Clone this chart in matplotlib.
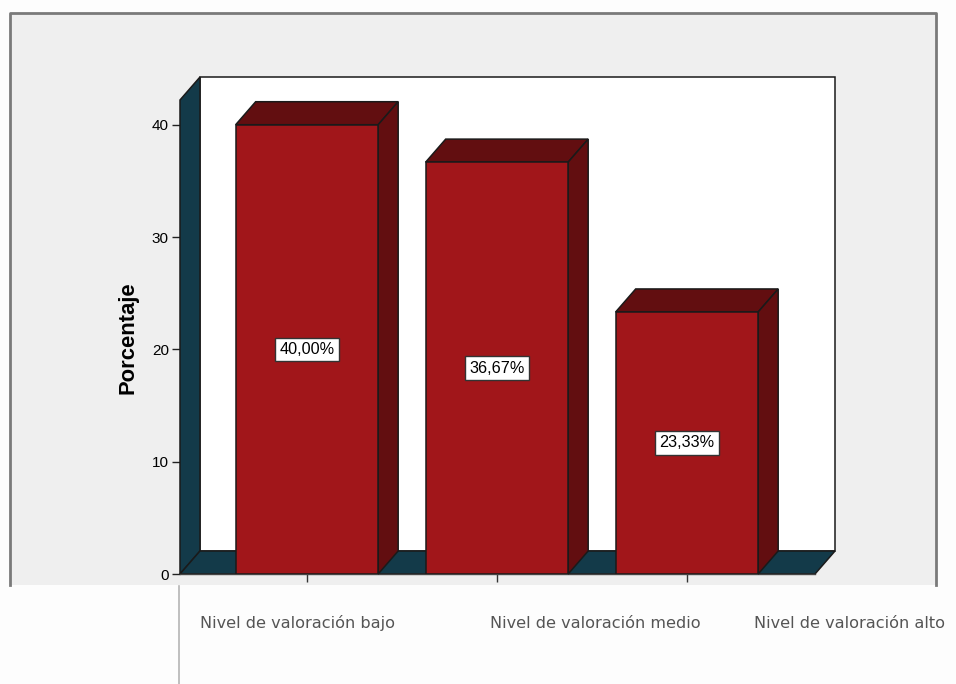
import matplotlib
matplotlib.use('Agg')
import matplotlib.pyplot as plt
from matplotlib.patches import Polygon, Rectangle
from matplotlib.lines import Line2D

# Datos del grafico
categorias = ['Nivel de valoración bajo', 'Nivel de valoración medio', 'Nivel de valoración alto']
porcentajes = [40.00, 36.67, 23.33]
ticks_y = [0, 10, 20, 30, 40]

# Colores estilo SPSS
rojo = '#a1161a'
rojo_osc = '#620e10'
azul_osc = '#133a49'
borde = '#1a1a1a'

W, H = 956, 684
def fx(px):
    return px / W
def fy(py):
    return 1 - py / H

plt.rcParams['font.family'] = ['Liberation Sans', 'DejaVu Sans']

fig = plt.figure(figsize=(W / 100, H / 100), dpi=100)
fig.patch.set_facecolor('#fdfdfd')

# Marco gris de fondo
fig.add_artist(Rectangle((fx(10), fy(585)), fx(936) - fx(10), fy(13) - fy(585),
                         transform=fig.transFigure, facecolor='#efefef', edgecolor='none', zorder=0))
fig.add_artist(Line2D([fx(10), fx(10), fx(936), fx(936)], [fy(585), fy(13), fy(13), fy(585)],
                      color='#7a7a7a', lw=2, zorder=1))
fig.add_artist(Line2D([fx(179), fx(179)], [fy(586), 0], color='#b4b4b4', lw=1.2, zorder=1))

# Ejes (plano frontal)
ax = fig.add_axes([fx(180), fy(574), fx(815) - fx(180), fy(100) - fy(574)])
ax.set_facecolor('none')
ax.set_xlim(-0.668, 2.674)
ax.set_ylim(0, 42.2)
x0, x1 = ax.get_xlim()
y0, y1 = ax.get_ylim()

# profundidad 3D en unidades de datos (20 px a la derecha, 23 px arriba)
inv = ax.transData.inverted()
o = inv.transform(ax.transData.transform((0, 0)))
p = inv.transform(ax.transData.transform((0, 0)) + [20, 23])
dx, dy = p[0] - o[0], p[1] - o[1]

def poli(pts, color, z):
    ax.add_patch(Polygon(pts, closed=True, facecolor=color, edgecolor=borde, lw=1.1,
                         zorder=z, clip_on=False, joinstyle='miter'))

# pared trasera, pared izquierda y suelo
poli([(x0 + dx, y0 + dy), (x1 + dx, y0 + dy), (x1 + dx, y1 + dy), (x0 + dx, y1 + dy)], 'white', 1)
poli([(x0, y0), (x0, y1), (x0 + dx, y1 + dy), (x0 + dx, y0 + dy)], azul_osc, 2)
poli([(x0, y0), (x1, y0), (x1 + dx, y0 + dy), (x0 + dx, y0 + dy)], azul_osc, 2)

# barras 3D
ancho = 0.75
xs = list(range(len(categorias)))
ax.bar(xs, porcentajes, width=ancho, color=rojo, edgecolor=borde, lw=1.1, zorder=5)
for x, v in zip(xs, porcentajes):
    izq, der = x - ancho / 2, x + ancho / 2
    poli([(izq, v), (der, v), (der + dx, v + dy), (izq + dx, v + dy)], rojo_osc, 4)
    poli([(der, 0), (der, v), (der + dx, v + dy), (der + dx, dy)], rojo_osc, 4)
    ax.text(x, v / 2, f'{v:.2f}%'.replace('.', ','), ha='center', va='center',
            fontsize=11.7, color='black', zorder=7,
            bbox=dict(boxstyle='square,pad=0.25', facecolor='white', edgecolor='#333333', lw=1))

# ejes
ax.set_yticks(ticks_y)
ax.set_yticklabels([str(t) for t in ticks_y], fontsize=11)
ax.set_xticks(xs)
ax.set_xticklabels([])
ax.tick_params(axis='y', direction='out', length=5.8, width=1, pad=2.2, color='#222222')
ax.tick_params(axis='x', direction='out', length=5.8, width=1, color='#333333')
for s in ['top', 'right', 'left']:
    ax.spines[s].set_visible(False)
ax.spines['bottom'].set_color('#444444')
ax.spines['bottom'].set_linewidth(1)

fig.text(fx(128), fy(338), 'Porcentaje', rotation=90, ha='center', va='center',
         fontsize=15.8, fontweight='bold')

# etiquetas de categoria (zona inferior)
pos_etiquetas = [200, 490, 754]
for px, lab in zip(pos_etiquetas, categorias):
    fig.text(fx(px), fy(623), lab, ha='left', va='center', fontsize=11.6,
             color='#555555', family='DejaVu Sans')

fig.savefig('out.png', dpi=100, facecolor=fig.get_facecolor())
